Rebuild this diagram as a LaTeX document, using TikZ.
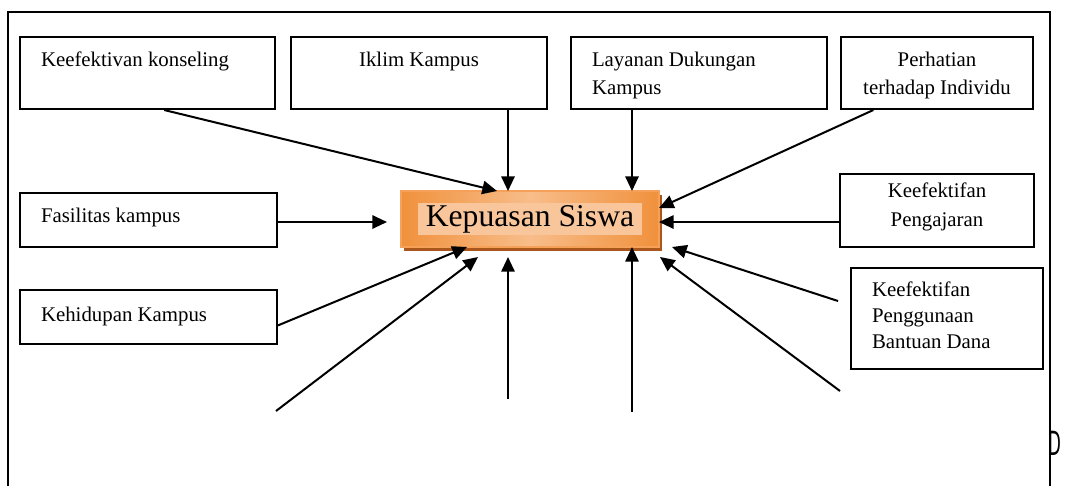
\documentclass[tikz,border=0pt]{standalone}
\usepackage{fontspec}
\setmainfont{Liberation Serif}
\newfontfamily\narrowsans{DejaVu Sans}
\usetikzlibrary{
  arrows.meta,
  calc,
  shadows
}
\definecolor{rimorange}{HTML}{F5A15A}
\definecolor{edgeorange}{HTML}{F0913C}
\definecolor{midpeach}{HTML}{F8BD8A}
\definecolor{textpeach}{HTML}{F9C69C}
\definecolor{shadoworange}{HTML}{A9571C}
\setlength{\fboxsep}{1.5pt}
\tikzset{
  >={Triangle[length=8.8pt,width=8pt]},
  line cap=round,
  every picture/.style={line width=1.2pt},
  box/.style={draw, anchor=north west, inner sep=0pt, line cap=rect, line join=miter},
  lefttext/.style={anchor=north west, inner sep=0pt, align=left, xshift=12.6pt, yshift=-9pt, font=\fontsize{12.5}{17}\selectfont},
  midtext/.style={anchor=north, inner sep=0pt, align=center, yshift=-9pt, font=\fontsize{12.5}{17}\selectfont},
  arrow/.style={->},
  mainbox/.style={draw=rimorange, line width=1pt, left color=edgeorange, right color=edgeorange, middle color=midpeach,
    drop shadow={shadow xshift=1.8pt, shadow yshift=-2.4pt, fill=shadoworange, opacity=1},
    inner sep=0pt, font=\fontsize{19}{22}\selectfont}
}
\begin{document}
\begin{tikzpicture}[x=0.6pt,y=-0.6pt]
  \useasboundingbox (0,0) rectangle (1065,485);
  \draw[line width=1.1pt, line cap=rect] (8,485) -- (8,12) -- (1050,12) -- (1050,485);

  \node[box, minimum width=153pt, minimum height=43.2pt, label={[lefttext]north west:Keefektivan konseling}] (konseling) at (19,36) {};
  \node[box, minimum width=153.6pt, minimum height=43.2pt, label={[midtext]north:Iklim Kampus}] (iklim) at (290,36) {};
  \node[box, minimum width=153.6pt, minimum height=43.2pt, label={[lefttext]north west:{Layanan Dukungan\\Kampus}}] (layanan) at (570,36) {};
  \node[box, minimum width=115.2pt, minimum height=43.2pt, label={[midtext]north:{Perhatian\\terhadap Individu}}] (perhatian) at (840,36) {};
  \node[box, minimum width=154.2pt, minimum height=32.4pt, label={[lefttext]north west:Fasilitas kampus}] (fasilitas) at (19,192) {};
  \node[box, minimum width=154.2pt, minimum height=32.4pt, label={[lefttext, yshift=-1pt]north west:Kehidupan Kampus}] (kehidupan) at (19,289) {};
  \node[box, minimum width=116.4pt, minimum height=43.8pt, label={[midtext, yshift=3.5pt]north:{Keefektifan\\Pengajaran}}] (pengajaran) at (839,173) {};
  \node[box, minimum width=115.2pt, minimum height=60.6pt, label={[lefttext, yshift=0.5pt, font=\fontsize{12.5}{15.5}\selectfont]north west:{Keefektifan\\Penggunaan\\Bantuan Dana}}] (penggunaan) at (850,267) {};

  \node[mainbox, minimum width=154.8pt, minimum height=33.6pt] (siswa) at (530,219) {\colorbox{textpeach}{\hspace{3pt}Kepuasan Siswa\hspace{3pt}}};

  \node[anchor=west, inner sep=0pt, font=\narrowsans\fontsize{20}{20}\selectfont] (stray) at (1047,443) {\scalebox{0.5}[1]{D}};

  \coordinate (tKonseling) at (497,191);
  \coordinate (tIklim) at (508,191);
  \coordinate (tLayanan) at (632,191);
  \coordinate (tPerhatian) at (659,208);
  \coordinate (tFasilitas) at (387,222);
  \coordinate (tPengajaran) at (659,222);
  \coordinate (tKehidupan) at (467,247);
  \coordinate (tPenggunaan) at (672,247);
  \coordinate (tBawahA) at (478,257);
  \coordinate (tBawahB) at (508,257);
  \coordinate (tBawahC) at (632,247);
  \coordinate (tBawahD) at (660,257);
  \coordinate (sBawahA) at (276,411);
  \coordinate (sBawahB) at (508,399);
  \coordinate (sBawahC) at (632,412);
  \coordinate (sBawahD) at (840,391);

  \draw[arrow] ($(konseling.south west)!.565!(konseling.south east)$) -- (tKonseling);
  \draw[arrow] (tIklim |- iklim.south) -- (tIklim);
  \draw[arrow] (tLayanan |- layanan.south) -- (tLayanan);
  \draw[arrow] ($(perhatian.south west)!.172!(perhatian.south east)$) -- (tPerhatian);
  \draw[arrow] (fasilitas.east |- tFasilitas) -- (tFasilitas);
  \draw[arrow] (pengajaran.west |- tPengajaran) -- (tPengajaran);
  \draw[arrow] ($(kehidupan.south east)!.35!(kehidupan.north east)$) -- (tKehidupan);
  \draw[arrow] ($(penggunaan.north west)+(-12,34)$) -- (tPenggunaan);
  \draw[arrow] (sBawahA) -- (tBawahA);
  \draw[arrow] (sBawahB) -- (tBawahB);
  \draw[arrow] (sBawahC) -- (tBawahC);
  \draw[arrow] (sBawahD) -- (tBawahD);
\end{tikzpicture}
\end{document}
